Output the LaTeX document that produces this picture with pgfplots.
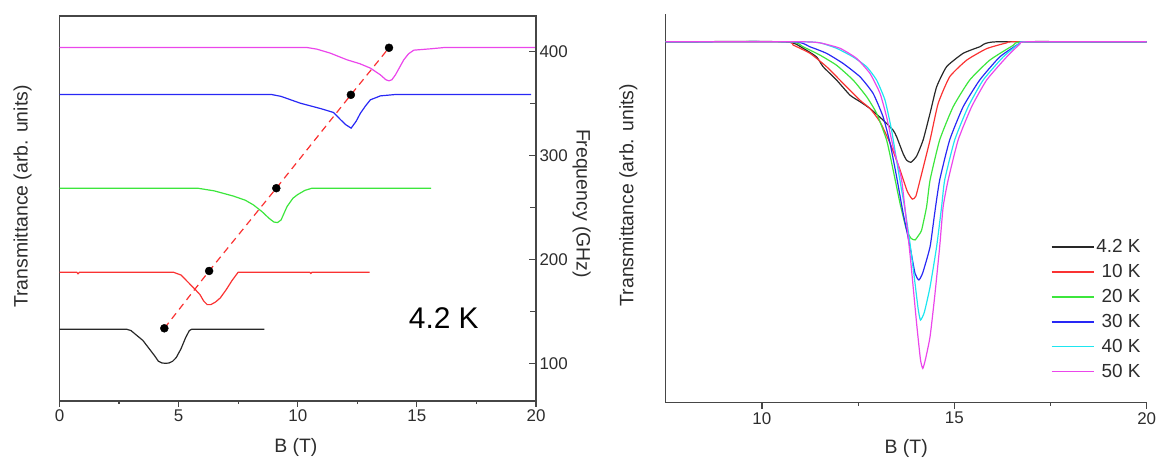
\documentclass[border=0pt]{standalone}
\usepackage{fontspec}
\setmainfont{Liberation Sans}
\usepackage{pgfplots}
\pgfplotsset{compat=1.18}
\definecolor{cblk}{RGB}{40,40,40}
\definecolor{cred}{RGB}{250,50,50}
\definecolor{cgrn}{RGB}{60,230,60}
\definecolor{cblu}{RGB}{40,40,245}
\definecolor{ccya}{RGB}{30,230,240}
\definecolor{cmag}{RGB}{235,70,235}
\definecolor{axc}{RGB}{70,70,70}
\definecolor{txc}{RGB}{45,45,45}
\pgfplotsset{common/.style={scale only axis,
  axis line style={draw=axc, line width=1.3bp},
  tick style={draw=axc, line width=1.2bp},
  tick label style={font=\fontsize{17}{20}\selectfont, text=txc},
  /pgf/number format/assume math mode=true}}
\newcommand{\lblfont}{\fontsize{19.5}{22}\selectfont}
\begin{document}
\begin{tikzpicture}
\useasboundingbox (0,0) rectangle (1157bp,459bp);
% ---------------- left panel ----------------
\begin{axis}[common, at={(59.5bp,58bp)}, anchor=south west,
  width=476.5bp, height=385bp,
  xmin=0, xmax=20, ymin=63.7, ymax=434.4,
  xtick={0,5,10,15,20}, minor xtick={2.5,7.5,12.5,17.5},
  ytick=\empty, xtick pos=left, tick align=outside,
  major tick length=5.5bp, minor tick length=3bp,
  xlabel={B (T)}, ylabel={Transmittance (arb. units)},
  every axis x label/.style={at={(axis description cs:0.496,-0.122)},anchor=center,font=\lblfont,text=txc},
  every axis y label/.style={at={(axis description cs:-0.0777,0.531)},anchor=center,rotate=90,font=\lblfont,text=txc}]
\addplot[cblk, line width=1.2bp] coordinates {(0,132.8) (2.82,132.8) (3.0,131.5) (3.5,122) (4.0,107) (4.15,102) (4.3,100.3) (4.45,100) (4.6,100.3) (4.75,102) (4.9,105.5) (5.1,114) (5.3,125) (5.45,131.5) (5.55,132.8) (8.6,132.8)};
\addplot[cred, line width=1.2bp] coordinates {(0,187.7) (0.72,187.7) (0.78,186.2) (0.84,187.7) (4.78,187.7) (5.1,185) (5.4,178) (5.7,171) (5.9,166) (6.05,160) (6.2,156.5) (6.35,156.5) (6.55,159) (6.75,163) (7.0,171) (7.25,180) (7.5,187.7) (10.5,187.7) (10.55,186.5) (10.6,187.7) (13.02,187.7)};
\addplot[cgrn, line width=1.2bp] coordinates {(0,268.6) (5.8,268.6) (6.5,266) (7.3,261) (7.8,257) (8.14,252.5) (8.5,246) (8.8,239.5) (9.0,236) (9.15,235.5) (9.3,238) (9.55,250.9) (9.8,259) (10.0,262.5) (10.3,266.5) (10.6,268.6) (15.6,268.6)};
\addplot[cblu, line width=1.2bp] coordinates {(0,358.8) (8.9,358.8) (9.3,357) (10.1,350.5) (11.0,345) (11.5,341.5) (11.8,334.5) (12.0,330) (12.24,326.4) (12.45,333) (12.63,340.8) (12.85,348) (13.05,353.7) (13.47,357.5) (14.1,358.8) (19.8,358.8)};
\addplot[cmag, line width=1.2bp] coordinates {(0,404) (10.4,404) (10.8,402.5) (11.37,398.6) (12.07,392.2) (12.6,388.5) (13.05,384.2) (13.47,377.7) (13.7,373) (13.83,372) (13.95,373) (14.1,377.7) (14.3,386) (14.45,392.2) (14.65,398) (14.87,401.5) (15.57,402.8) (16.13,404) (20,404)};
\addplot[cred, line width=1.2bp, dash pattern=on 7bp off 5bp] coordinates {(4.40,133.7) (6.28,188.9) (9.10,268.6) (12.23,358.5) (13.83,403.8)};
\addplot[only marks, mark=*, mark size=4bp, black] coordinates {(4.40,133.7) (6.28,188.9) (9.10,268.6) (12.23,358.5) (13.83,403.8)};
\node[font=\fontsize{30}{34}\selectfont, text=black] at (axis cs:16.13,143.4) {4.2 K};
\end{axis}
\begin{axis}[common, at={(59.5bp,58bp)}, anchor=south west,
  width=476.5bp, height=385bp,
  xmin=0, xmax=20, ymin=63.7, ymax=434.4,
  hide x axis, axis y line*=right,
  ytick={100,200,300,400}, minor ytick={150,250,350},
  tick align=inside, major tick length=7bp, minor tick length=6bp,
  ylabel={Frequency (GHz)},
  every axis y label/.style={at={(axis description cs:1.0959,0.513)},anchor=center,rotate=-90,font=\lblfont,text=txc}]
\addplot[draw=none] coordinates {(0,100)};
\end{axis}
% ---------------- right panel ----------------
\begin{axis}[common, at={(665.7bp,56.3bp)}, anchor=south west,
  width=481bp, height=388.7bp,
  xmin=7.5, xmax=20, ymin=0, ymax=1.077,
  axis x line*=bottom, axis y line*=left,
  ytick=\empty, xtick={10,15,20}, minor xtick={12.5,17.5},
  tick align=outside, major tick length=6bp, minor tick length=3bp,
  xlabel={B (T)}, ylabel={Transmittance (arb. units)},
  every axis x label/.style={at={(axis description cs:0.5,-0.1165)},anchor=center,font=\lblfont,text=txc},
  every axis y label/.style={at={(axis description cs:-0.0778,0.534)},anchor=center,rotate=90,font=\lblfont,text=txc},
  legend style={at={(0.998,0.43)}, anchor=north east, draw=none, fill=none,
    font=\fontsize{19}{22}\selectfont, text=txc, row sep=6.2bp,
    /tikz/every even column/.append style={column sep=5bp}},
  legend cell align=right,
  legend image code/.code={\draw[#1,line width=1.5bp] (0bp,0bp) -- (42bp,0bp);}]
\addplot[cblk, line width=1.2bp, smooth, tension=0.3] coordinates {(7.5,1) (10.6,1) (11.07,0.982) (11.42,0.958) (11.59,0.931) (11.94,0.894) (12.29,0.852) (12.55,0.834) (12.81,0.815) (13.15,0.783) (13.41,0.755) (13.50,0.737) (13.67,0.690) (13.76,0.672) (13.87,0.666) (14.02,0.683) (14.19,0.728) (14.37,0.802) (14.54,0.875) (14.80,0.931) (15.23,0.968) (15.66,0.986) (16.10,1) (20,1)};
\addlegendentry{4.2 K}
\addplot[cred, line width=1.2bp, smooth, tension=0.3] coordinates {(7.5,1) (10.6,1) (10.81,0.991) (11.25,0.968) (11.68,0.931) (12.11,0.885) (12.55,0.838) (12.81,0.815) (13.07,0.778) (13.33,0.719) (13.59,0.645) (13.78,0.585) (13.91,0.564) (14.0,0.572) (14.11,0.617) (14.37,0.728) (14.58,0.829) (14.88,0.903) (15.32,0.949) (15.84,0.981) (16.36,0.997) (16.6,1) (20,1)};
\addlegendentry{10 K}
\addplot[cgrn, line width=1.2bp, smooth, tension=0.3] coordinates {(7.5,1) (10.7,1) (11.07,0.986) (11.51,0.963) (11.94,0.935) (12.37,0.894) (12.72,0.848) (12.98,0.802) (13.24,0.728) (13.41,0.645) (13.59,0.552) (13.76,0.478) (13.88,0.455) (13.98,0.451) (14.08,0.465) (14.15,0.478) (14.28,0.543) (14.37,0.617) (14.62,0.728) (14.97,0.820) (15.40,0.894) (15.92,0.949) (16.53,0.99) (16.8,1) (20,1)};
\addlegendentry{20 K}
\addplot[cblu, line width=1.2bp, smooth, tension=0.3] coordinates {(7.5,1) (10.8,1) (11.25,0.986) (11.68,0.968) (12.11,0.940) (12.55,0.903) (12.89,0.857) (13.15,0.792) (13.33,0.719) (13.50,0.626) (13.67,0.525) (13.85,0.432) (13.98,0.358) (14.08,0.340) (14.18,0.36) (14.37,0.432) (14.49,0.525) (14.62,0.617) (14.88,0.728) (15.23,0.820) (15.66,0.894) (16.18,0.958) (16.70,0.996) (16.9,1) (20,1)};
\addlegendentry{30 K}
\addplot[ccya, line width=1.2bp, smooth, tension=0.3] coordinates {(7.5,1) (11.0,1) (11.51,0.997) (11.94,0.982) (12.37,0.958) (12.72,0.931) (12.98,0.894) (13.20,0.838) (13.37,0.755) (13.54,0.645) (13.72,0.534) (13.85,0.44) (13.98,0.33) (14.06,0.26) (14.12,0.229) (14.22,0.25) (14.37,0.321) (14.54,0.432) (14.67,0.543) (14.75,0.617) (15.01,0.728) (15.36,0.820) (15.75,0.894) (16.27,0.958) (16.70,0.996) (16.9,1) (20,1)};
\addlegendentry{40 K}
\addplot[cmag, line width=1.2bp, smooth, tension=0.3] coordinates {(7.5,1) (11.0,1) (11.51,0.997) (12.03,0.982) (12.46,0.954) (12.81,0.912) (13.07,0.857) (13.24,0.792) (13.41,0.709) (13.63,0.617) (13.85,0.41) (14.02,0.22) (14.12,0.12) (14.18,0.095) (14.25,0.12) (14.37,0.183) (14.49,0.294) (14.62,0.432) (14.71,0.543) (14.84,0.617) (15.10,0.728) (15.45,0.820) (15.84,0.894) (16.36,0.958) (16.70,0.993) (16.9,1) (20,1)};
\addlegendentry{50 K}
\end{axis}
\end{tikzpicture}
\end{document}
